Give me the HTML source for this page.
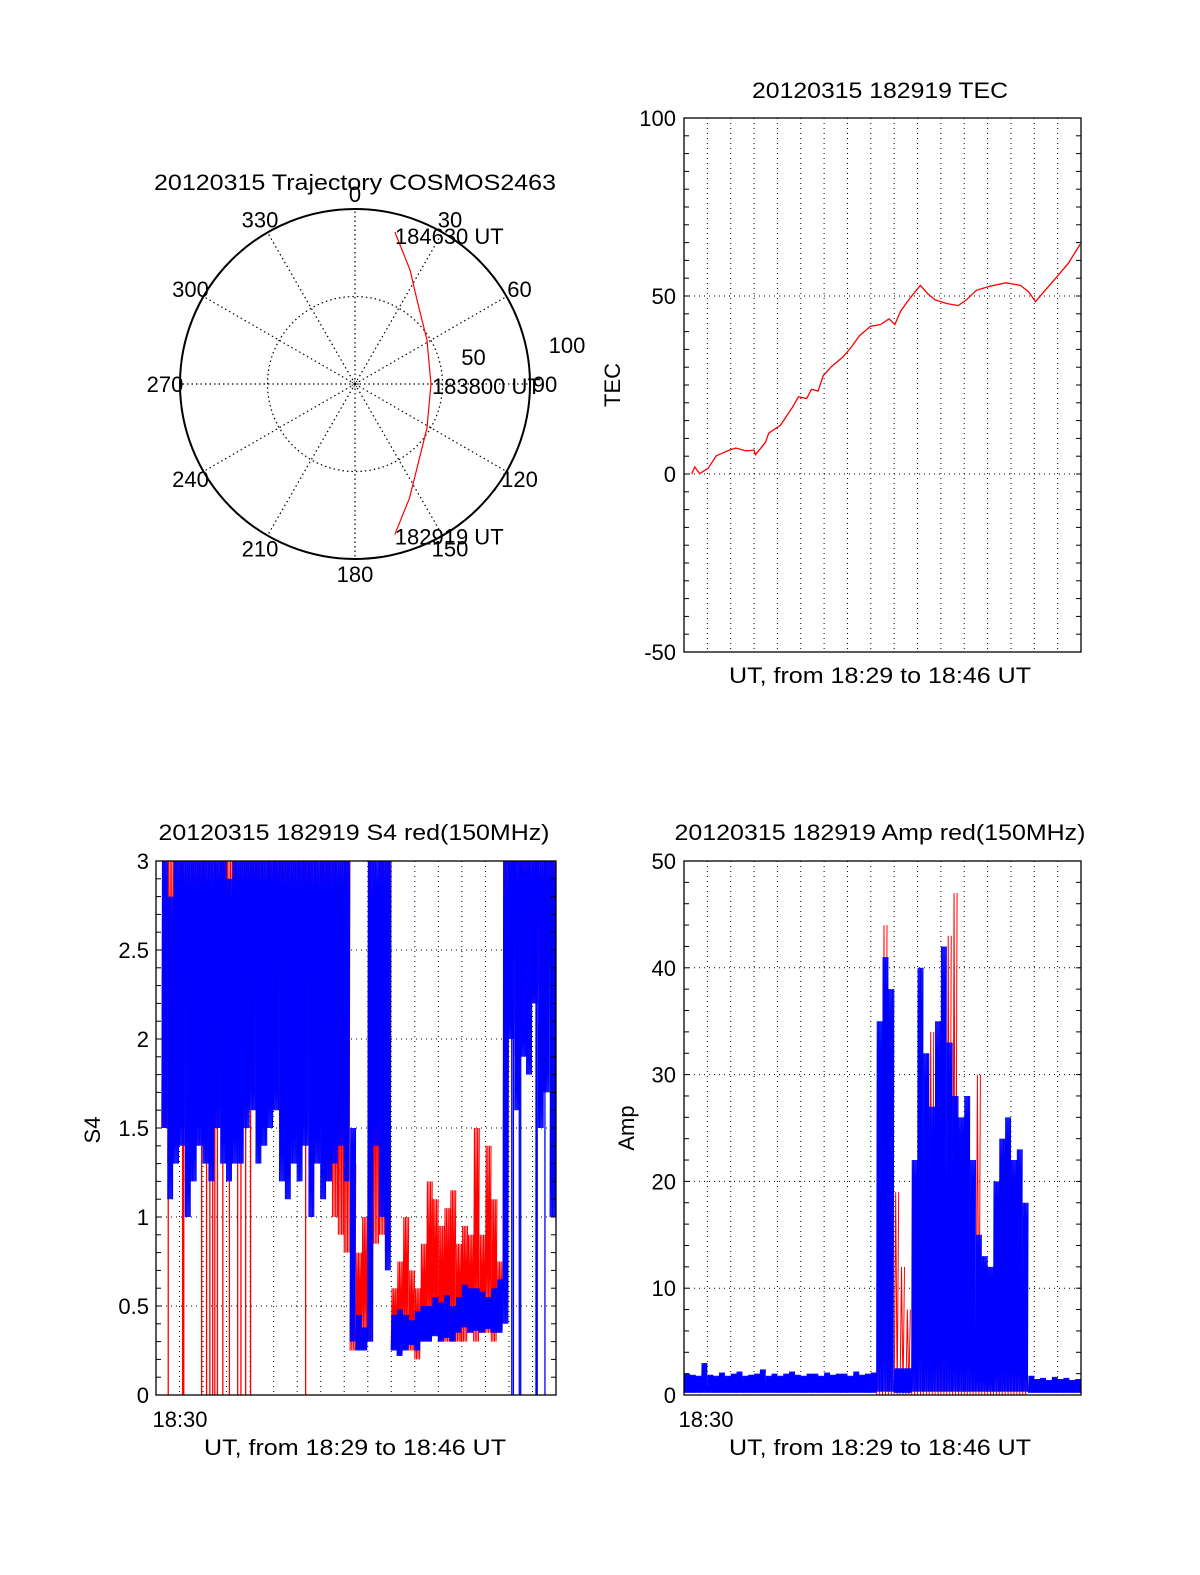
<!DOCTYPE html>
<html><head><meta charset="utf-8"><title>COSMOS2463 20120315</title>
<style>
html,body{margin:0;padding:0;background:#fff;}
svg{display:block;font-family:"Liberation Sans",Arial,sans-serif;}
text{fill:#000;}
</style></head>
<body>
<svg id="chart" xmlns="http://www.w3.org/2000/svg" width="1200" height="1575" viewBox="0 0 1200 1575">
<rect x="0" y="0" width="1200" height="1575" fill="#fff"/>
<defs>
<clipPath id="clip-tec"><rect x="684" y="118" width="397" height="534"/></clipPath>
<clipPath id="clip-s4"><rect x="156" y="861" width="400" height="534"/></clipPath>
<clipPath id="clip-amp"><rect x="684" y="861" width="397" height="534"/></clipPath>
</defs>
<text x="355" y="190" font-size="22" text-anchor="middle" textLength="402" lengthAdjust="spacingAndGlyphs">20120315 Trajectory COSMOS2463</text>
<text x="880" y="98" font-size="22" text-anchor="middle" textLength="256" lengthAdjust="spacingAndGlyphs">20120315 182919 TEC</text>
<text x="620" y="385" font-size="22" text-anchor="middle" transform="rotate(-90 620 385)">TEC</text>
<text x="880" y="683" font-size="22" text-anchor="middle" textLength="302" lengthAdjust="spacingAndGlyphs">UT, from 18:29 to 18:46 UT</text>
<text x="354" y="840" font-size="22" text-anchor="middle" textLength="391" lengthAdjust="spacingAndGlyphs">20120315 182919 S4 red(150MHz)</text>
<text x="100" y="1130" font-size="22" text-anchor="middle" transform="rotate(-90 100 1130)">S4</text>
<text x="180" y="1427" font-size="22" text-anchor="middle">18:30</text>
<text x="355" y="1455" font-size="22" text-anchor="middle" textLength="302" lengthAdjust="spacingAndGlyphs">UT, from 18:29 to 18:46 UT</text>
<text x="880" y="840" font-size="22" text-anchor="middle" textLength="411" lengthAdjust="spacingAndGlyphs">20120315 182919 Amp red(150MHz)</text>
<text x="634" y="1128" font-size="22" text-anchor="middle" transform="rotate(-90 634 1128)">Amp</text>
<text x="706" y="1427" font-size="22" text-anchor="middle">18:30</text>
<text x="880" y="1455" font-size="22" text-anchor="middle" textLength="302" lengthAdjust="spacingAndGlyphs">UT, from 18:29 to 18:46 UT</text>
</svg>
<script>
// ---------- data ----------
const trajAz = [14.7, 25.8, 36.4, 58.6, 90, 121.4, 143.6, 154.5, 165.2];
const trajR  = [89.8, 72.3, 59.7, 48.2, 43.4, 48.2, 59.7, 72.3, 89.0];
const polarAngles = [0,30,60,90,120,150,180,210,240,270,300,330];
const polarRings = [50,100];

const tecT = [0.33,0.46,0.67,1.03,1.38,1.94,2.22,2.65,3.0,3.06,3.49,3.63,4.13,4.62,4.9,5.25,5.46,5.74,5.96,6.32,6.81,7.16,7.51,7.99,8.42,8.78,9.03,9.27,9.69,10.12,10.46,10.76,11.24,11.74,12.09,12.52,13.08,13.78,14.41,14.77,15.05,15.4,15.89,16.45,16.96];
const tecV = [0,2,0.1,1.6,5.1,6.7,7.3,6.5,6.7,5.4,8.9,11.5,13.7,18.5,21.7,21.2,23.8,23.3,27.6,30.2,32.9,35.6,38.8,41.5,42,43.6,42,45.7,49.5,53,50.5,48.9,47.9,47.3,48.9,51.6,52.7,53.7,53,51.1,48.4,51.1,54.8,59.1,64.5];
const tecTicks = [100,50,0,-50];

const s4BlueLo = [null,1.5,1.1,1.3,1.4,1.0,1.2,1.4,1.3,1.2,1.5,1.3,1.2,1.3,1.3,1.5,1.6,1.3,1.4,1.5,1.6,1.2,1.1,1.3,1.2,1.4,1.0,1.3,1.1,1.2,1.3,1.4,1.2,
  0.3,0.25,0.25,0.3,1.4,1.0,0.7,
  0.25,0.22,0.25,0.28,0.25,0.3,0.3,0.33,0.3,0.32,0.3,0.35,0.38,0.35,0.36,0.35,0.37,0.35,0.35,
  0.4,2.0,1.6,1.9,1.8,2.2,1.5,1.7,1.0];
const s4BlueHi = [null,3,2.8,3,3,3,3,3,3,3,3,3,2.9,3,3,3,3,3,3,3,3,3,3,3,3,3,3,3,3,3,3,3,3,
  1.5,0.45,0.38,3,3,3,3,
  0.45,0.48,0.45,0.42,0.47,0.5,0.5,0.55,0.52,0.56,0.5,0.55,0.62,0.6,0.6,0.58,0.55,0.6,0.65,
  3,3,3,3,3,3,3,3,3];
const s4RedLo = [null,1.5,1.3,1.4,1.5,1.2,1.4,1.5,1.5,1.3,1.6,1.5,1.4,1.5,1.5,1.6,1.7,1.5,1.5,1.6,1.7,1.5,1.4,1.5,1.5,1.6,1.3,1.5,1.4,1.2,1.0,0.9,0.8,
  0.25,0.3,0.3,0.3,0.85,0.9,0.8,
  0.25,0.22,0.3,0.25,0.2,0.3,0.3,0.35,0.3,0.3,0.3,0.3,0.3,0.35,0.3,0.35,0.35,0.3,0.35,
  0.5,2.1,1.9,2.4,2.0,2.2,2.3,2.1,2.4];
const s4RedHi = [null,3,3,3,3,3,3,3,3,3,3,3,3,3,3,3,3,3,3,3,3,3,3,3,3,3,3,3,3,3,3,3,3,
  1.3,0.8,1.0,3,2.8,3,3,
  0.6,0.75,1.0,0.7,0.6,0.85,1.2,1.1,0.95,1.05,1.15,0.85,0.95,0.9,1.5,0.9,1.4,1.1,0.75,
  3,3,3,3,3,3,3,3,3];
const s4RedSpikes = [0.52,1.13,1.18,1.94,2.15,2.29,2.41,2.5,2.61,2.84,3.12,3.47,3.61,3.81,4.02,6.36];
const s4BlueSpikes = [15.12,15.19,15.44,15.5,16.15,16.2,16.53];
const s4Ticks = [3,2.5,2,1.5,1,0.5,0];

const ampBlueLo = [0.2,0.2,0.2,0.2,0.2,0.2,0.2,0.2,0.2,0.2,0.2,0.2,0.2,0.2,0.2,0.2,0.2,0.2,0.2,0.2,0.2,0.2,0.2,0.2,0.2,0.2,0.2,0.2,0.2,0.2,0.2,0.2,0.2,
  0.3,0.3,0.3,0.2,0.2,0.2,0.3,0.3,0.3,0.3,0.3,0.3,0.3,0.3,0.3,0.3,0.3,0.3,0.3,0.3,0.3,0.3,0.3,0.3,0.3,0.3,
  0.2,0.2,0.2,0.2,0.2,0.2,0.2,0.2,0.2];
const ampBlueHi = [2.0,1.9,1.8,3.0,1.9,1.8,2.1,1.8,2.0,2.2,1.8,1.9,2.0,2.4,1.8,2.0,1.8,2.0,2.2,1.9,1.8,2.0,2.0,1.8,2.1,1.9,2.0,2.0,1.8,2.2,1.9,2.0,2.1,
  35,41,38,2.5,2.5,2.5,22,40,32,27,35,42,33,28,26,28,22,15,13,12,20,24,26,22,23,18,
  1.8,1.5,1.6,1.4,1.7,1.5,1.6,1.4,1.5];
const ampRedLo = [null,null,null,null,null,null,null,null,null,null,null,null,null,null,null,null,null,null,null,null,null,null,null,null,null,null,null,null,null,null,null,null,null,
  0,0,0,0,0,0,0,0,0,0,0,0,0,0,0,0,0,0,0,0,0,0,0,0,0,0,
  null,null,null,null,null,null,null,null,null];
const ampRedHi = [null,null,null,null,null,null,null,null,null,null,null,null,null,null,null,null,null,null,null,null,null,null,null,null,null,null,null,null,null,null,null,null,null,
  10,44,15,19,12,8,21,15,26,34,10,36,43,47,25,20,15,30,12,4,3,4,5,4,4,3,
  null,null,null,null,null,null,null,null,null];
const ampTicks = [50,40,30,20,10,0];

// ---------- drawing ----------
const NS = 'http://www.w3.org/2000/svg';
const svg = document.getElementById('chart');
function mk(tag, attrs, parent) {
  const e = document.createElementNS(NS, tag);
  for (const k in attrs) e.setAttribute(k, attrs[k]);
  (parent || svg).appendChild(e);
  return e;
}
const BIN = 0.25, TMAX = 17;
const panels = {
  tec: {x0:684, x1:1081, y0:118, y1:652, ymin:-50, ymax:100},
  s4:  {x0:156, x1:556, y0:861, y1:1395, ymin:0, ymax:3},
  amp: {x0:684, x1:1081, y0:861, y1:1395, ymin:0, ymax:50}
};
for (const k in panels) panels[k].key = k;
function xs(p, t) { return p.x0 + (p.x1 - p.x0) * t / TMAX; }
function ys(p, v) { return p.y1 - (p.y1 - p.y0) * (v - p.ymin) / (p.ymax - p.ymin); }

function gridLines(p, key, gridVals) {
  const g = mk('g', {});
  
  
  for (let m = 1; m < TMAX; m++) {
    const x = xs(p, m);
    const l = mk('line', {x1:x, x2:x, y1:p.y0, y2:p.y1, stroke:'#000', 'stroke-width':1, 'stroke-dasharray':'1 4'}, g);
    
    
  }
  gridVals.forEach(v => {
    const y = ys(p, v);
    const l = mk('line', {x1:p.x0, x2:p.x1, y1:y, y2:y, stroke:'#000', 'stroke-width':1, 'stroke-dasharray':'1 4'}, g);
    
    
  });
}
function frameTicks(p, key, ticks, minor) {
  const g = mk('g', {});
  
  
  const r = mk('rect', {x:p.x0, y:p.y0, width:p.x1-p.x0, height:p.y1-p.y0, fill:'none', stroke:'#000', 'stroke-width':1.3}, g);
  
  
  const n = Math.round((p.ymax - p.ymin) / minor);
  for (let i = 1; i < n; i++) {
    const y = ys(p, p.ymin + i * minor);
    const a = mk('line', {x1:p.x0, x2:p.x0+5, y1:y, y2:y, stroke:'#000', 'stroke-width':1}, g);
    
    
    const b = mk('line', {x1:p.x1-5, x2:p.x1, y1:y, y2:y, stroke:'#000', 'stroke-width':1}, g);
    
    
  }
  const lx = key === 's4' ? 149 : 676;
  ticks.forEach(v => {
    const t = mk('text', {x:lx, y:ys(p, v) + 8, 'font-size':22, 'text-anchor':'end'}, g);
    t.textContent = String(v);
    
    
  });
}
function band(p, key, lo, hi, color, step, width) {
  let d = '';
  for (let i = 0; i < hi.length; i++) {
    if (hi[i] == null || lo[i] == null) continue;
    const x0 = xs(p, i * BIN), x1 = xs(p, (i + 1) * BIN);
    let k = 0;
    for (let x = x0; x <= x1 + 0.01; x += step, k++) {
      d += (k === 0 ? 'M' : 'L') + x.toFixed(2) + ' ' + ys(p, k % 2 ? hi[i] : lo[i]).toFixed(2);
    }
  }
  const path = mk('path', {d:d, fill:'none', stroke:color, 'stroke-width':width, 'clip-path':'url(#clip-' + p.key + ')'});
  
  
}
function spikes(p, key, times, lo, hi, color) {
  let d = '';
  times.forEach(t => { const x = xs(p, t); d += 'M' + x + ' ' + ys(p, lo) + 'L' + x + ' ' + ys(p, hi); });
  const path = mk('path', {d:d, fill:'none', stroke:color, 'stroke-width':1.3, 'clip-path':'url(#clip-' + p.key + ')'});
  
  
}

// TEC
const PT = panels.tec;
gridLines(PT, 'tec', [0, 50]);
let td = '';
tecT.forEach((t, i) => { td += (i ? 'L' : 'M') + xs(PT, t).toFixed(2) + ' ' + ys(PT, tecV[i]).toFixed(2); });
const tecLine = mk('path', {d:td, fill:'none', stroke:'#f00', 'stroke-width':1.3, 'clip-path':'url(#clip-tec)'});


frameTicks(PT, 'tec', tecTicks, 5);

// S4
const PS = panels.s4;
gridLines(PS, 's4', [0.5, 1, 1.5, 2, 2.5]);
band(PS, 's4-red-series', s4RedLo, s4RedHi, '#f00', 0.8, 1.1);
spikes(PS, 's4-red-dropouts', s4RedSpikes, 0, 1.6, '#f00');
band(PS, 's4-blue-series', s4BlueLo, s4BlueHi, '#00f', 0.6, 1.1);
spikes(PS, 's4-blue-dropouts', s4BlueSpikes, 0, 3, '#00f');
frameTicks(PS, 's4', s4Ticks, 0.1);

// Amp
const PA = panels.amp;
gridLines(PA, 'amp', [10, 20, 30, 40]);
band(PA, 'amp-red-series', ampRedLo, ampRedHi, '#f00', 1.5, 1);
band(PA, 'amp-blue-series', ampBlueLo, ampBlueHi, '#00f', 0.6, 1.1);
frameTicks(PA, 'amp', ampTicks, 2);

// Polar
const CX = 355, CY = 384, RPX = 175;
function pr(v) { return v / 100 * RPX; }
function px(az, v) { return CX + pr(v) * Math.sin(az * Math.PI / 180); }
function py(az, v) { return CY - pr(v) * Math.cos(az * Math.PI / 180); }
const pg = mk('g', {});


polarAngles.forEach(a => {
  const l = mk('line', {x1:CX, y1:CY, x2:px(a, 100), y2:py(a, 100), stroke:'#000', 'stroke-width':1.2, 'stroke-dasharray':'1.5 3'}, pg);
  
  
  const t = mk('text', {x:CX + 190 * Math.sin(a * Math.PI / 180), y:CY - 190 * Math.cos(a * Math.PI / 180) + 8, 'font-size':22, 'text-anchor':'middle'}, pg);
  t.textContent = String(a);
  
  
});
const inner = mk('circle', {cx:CX, cy:CY, r:pr(polarRings[0]), fill:'none', stroke:'#000', 'stroke-width':1.2, 'stroke-dasharray':'1.5 3'}, pg);


const centerDot = mk('circle', {cx:CX, cy:CY, r:3, fill:'none', stroke:'#000', 'stroke-width':1, 'stroke-dasharray':'1 1.5'}, pg);


const outer = mk('circle', {cx:CX, cy:CY, r:pr(polarRings[1]), fill:'none', stroke:'#000', 'stroke-width':2}, pg);


const r50 = mk('text', {x:CX + pr(50) + 31, y:365, 'font-size':22, 'text-anchor':'middle'}, pg);
r50.textContent = '50';


const r100 = mk('text', {x:CX + pr(100) + 37, y:353, 'font-size':22, 'text-anchor':'middle'}, pg);
r100.textContent = '100';


let trd = '';
trajAz.forEach((a, i) => { trd += (i ? 'L' : 'M') + px(a, trajR[i]).toFixed(2) + ' ' + py(a, trajR[i]).toFixed(2); });
const traj = mk('path', {d:trd, fill:'none', stroke:'#f00', 'stroke-width':1.2}, pg);


const n = trajAz.length - 1, mid = Math.floor(trajAz.length / 2);
const lEnd = mk('text', {x:px(trajAz[0], trajR[0]), y:py(trajAz[0], trajR[0]) + 12, 'font-size':22}, pg);
lEnd.textContent = '184630 UT';


const lMid = mk('text', {x:px(trajAz[mid], trajR[mid]) + 1, y:py(trajAz[mid], trajR[mid]) + 10, 'font-size':22}, pg);
lMid.textContent = '183800 UT';


const lStart = mk('text', {x:px(trajAz[n], trajR[n]), y:py(trajAz[n], trajR[n]) + 10, 'font-size':22}, pg);
lStart.textContent = '182919 UT';


</script>
</body></html>
